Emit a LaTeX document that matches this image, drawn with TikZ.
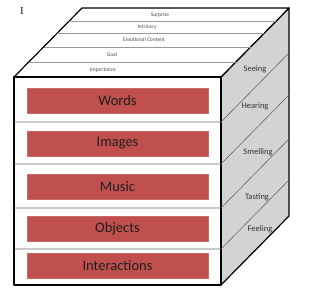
\documentclass[tikz,border=0pt]{standalone}
\usepackage{fontspec}
\newfontfamily\calfont{Carlito}
\definecolor{cubered}{HTML}{C0504D}
\definecolor{cubegray}{HTML}{D3D3D3}
\tikzset{
  redbox/.style={fill=cubered,draw=cubered!85!white,minimum width=181pt,minimum height=25pt,inner sep=0pt,
    font=\calfont\fontsize{14.5}{14.5}\selectfont,text=black!88},
  toplabel/.style={font=\calfont\fontsize{5.5}{5.5}\selectfont,text=black!70,inner sep=0pt},
  sidelabel/.style={font=\calfont\fontsize{8.5}{8.5}\selectfont,text=black!80,inner sep=0pt}
}
\begin{document}
\begin{tikzpicture}[x=1pt,y=-1pt,line join=round]
                \def\cubel{14}\def\cuber{221}\def\cubet{77}\def\cubeb{285}
                \def\cubedx{68}\def\cubedh{69}
                \useasboundingbox (0,0) rectangle (320,289);
                \node[font=\fontsize{10}{10}\selectfont,inner sep=0pt] (cursor) at (22,11) {I};
                % right face
                \draw[fill=cubegray,line width=1.2pt](\cuber,\cubet)--++(\cubedx,-\cubedh)--(\cuber+\cubedx,\cubeb-\cubedh)--(\cuber,\cubeb)--cycle;
                % top face
                \draw[fill=white,line width=1.2pt](\cubel,\cubet)--++(\cubedx,-\cubedh)--(\cuber+\cubedx,\cubet-\cubedh)--(\cuber,\cubet)--cycle;
                \foreach \y in {21,33,47,62}
                    \draw[black!40,line width=0.6pt]({\cubel+(\cubet-\y)*\cubedx/\cubedh},\y)--({\cuber+(\cubet-\y)*\cubedx/\cubedh},\y);
                \path(160,15) node[toplabel] (surprise) {Surprise}(147,27.5) node[toplabel] (intricacy) {Intricacy}(144,40) node[toplabel] (emotional) {Emotional Content};
                \path(112,55) node[toplabel] (goal) {Goal}(103,70) node[toplabel] (importance) {Importance};
                % front face
                \draw[fill=white,line width=1.2pt](\cubel,\cubet) rectangle (\cuber,\cubeb);
                \foreach \y in {122,164,208,249}
                    \draw[black!60,line width=0.6pt](\cubel,\y)--(\cuber,\y)--++(\cubedx,-\cubedh);
                \node[redbox] (words) at (117.5,100.5) {Words};
                \node[redbox] (images) at (117.5,143.5) {Images};
                \node[redbox] (music) at (117.5,187) {Music};
                \node[redbox] (objects) at (117.5,229) {Objects};
                \node[redbox] (interactions) at (117.5,266) {Interactions};
                \path(255,69) node[sidelabel] (seeing) {Seeing}(255,106) node[sidelabel] (hearing) {Hearing}(258,152) node[sidelabel] (smelling) {Smelling};
                \path(257,197) node[sidelabel] (tasting) {Tasting}(260,229) node[sidelabel] (feeling) {Feeling};
            \end{tikzpicture}
\end{document}
